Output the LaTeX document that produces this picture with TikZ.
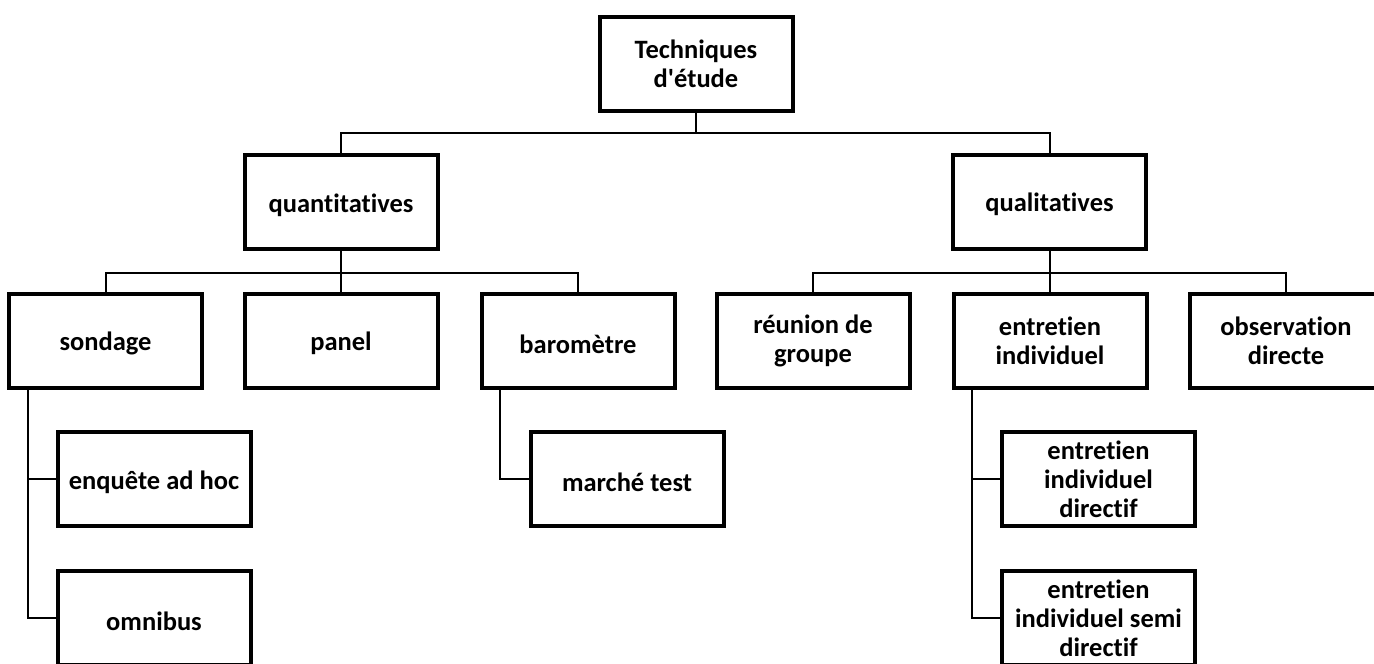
\documentclass[tikz,border=0pt]{standalone}
\usepackage{fontspec}
\setmainfont{Carlito}[Ligatures={NoCommon,TeXOff}]
\begin{document}
\begin{tikzpicture}[x=1pt,y=-1pt,
  box/.style={draw=black, line width=4pt, minimum width=193pt, minimum height=94pt,
    inner sep=0pt, align=center, font=\fontsize{26.5}{29}\selectfont\bfseries, fill=white},
  oneline/.style={box, label={[font=\fontsize{26.5}{29}\selectfont\bfseries, yshift=-3pt]center:#1}},
  conn/.style={draw=black, line width=2pt}]
\useasboundingbox (0,0) rectangle (1374,664);
\clip (0,0) rectangle (1374,664);
\fill[white] (0,0) rectangle (1374,664);
% bus / spine coordinates
\coordinate (busA) at (0,133);
\coordinate (busB) at (0,272.5);
\coordinate (sv) at (28,0);
\coordinate (bv) at (500,0);
\coordinate (ev) at (972,0);
\node[box] (tech) at (696,63.5) {Techniques\\d'étude};
\node[oneline=quantitatives] (quant) at (341,202) {};
\node[oneline=qualitatives] (qual) at (1049.5,201.5) {};
\node[oneline=sondage] (sondage) at (105.5,340.5) {};
\node[oneline=panel] (panel) at (341,340.5) {};
\node[oneline=baromètre] (baro) at (578,341) {};
\node[box] (reunion) at (813,341) {réunion de\\groupe};
\node[box] (entretien) at (1050,341) {entretien\\individuel};
\node[box] (obs) at (1286,341) {observation\\directe};
\node[oneline=enquête ad hoc] (enquete) at (154,479) {};
\node[oneline=omnibus] (omnibus) at (154,618) {};
\node[oneline=marché test] (marche) at (627,479) {};
\node[box] (eid) at (1098.5,479) {entretien\\individuel\\directif};
\node[box] (eisd) at (1098.5,618) {entretien\\individuel semi\\directif};
% level 1
\draw[conn] (tech.south) -- (tech.south|-busA);
\draw[conn] (quant.north) |- (busA-|qual.north) -- (qual.north);
% level 2 left
\draw[conn] (quant.south) -- (quant.south|-busB);
\draw[conn] (sondage.north) |- (busB-|baro.north) -- (baro.north);
\draw[conn] (panel.north) -- (panel.north|-busB);
% level 2 right
\draw[conn] (qual.south) -- (qual.south|-busB);
\draw[conn] (reunion.north) |- (busB-|obs.north) -- (obs.north);
\draw[conn] (entretien.north) -- (entretien.north|-busB);
% side spines
\draw[conn] (sv|-sondage.south) |- (omnibus.west);
\draw[conn] (sv|-enquete.west) -- (enquete.west);
\draw[conn] (bv|-baro.south) |- (marche.west);
\draw[conn] (ev|-entretien.south) |- (eisd.west);
\draw[conn] (ev|-eid.west) -- (eid.west);
\end{tikzpicture}
\end{document}
